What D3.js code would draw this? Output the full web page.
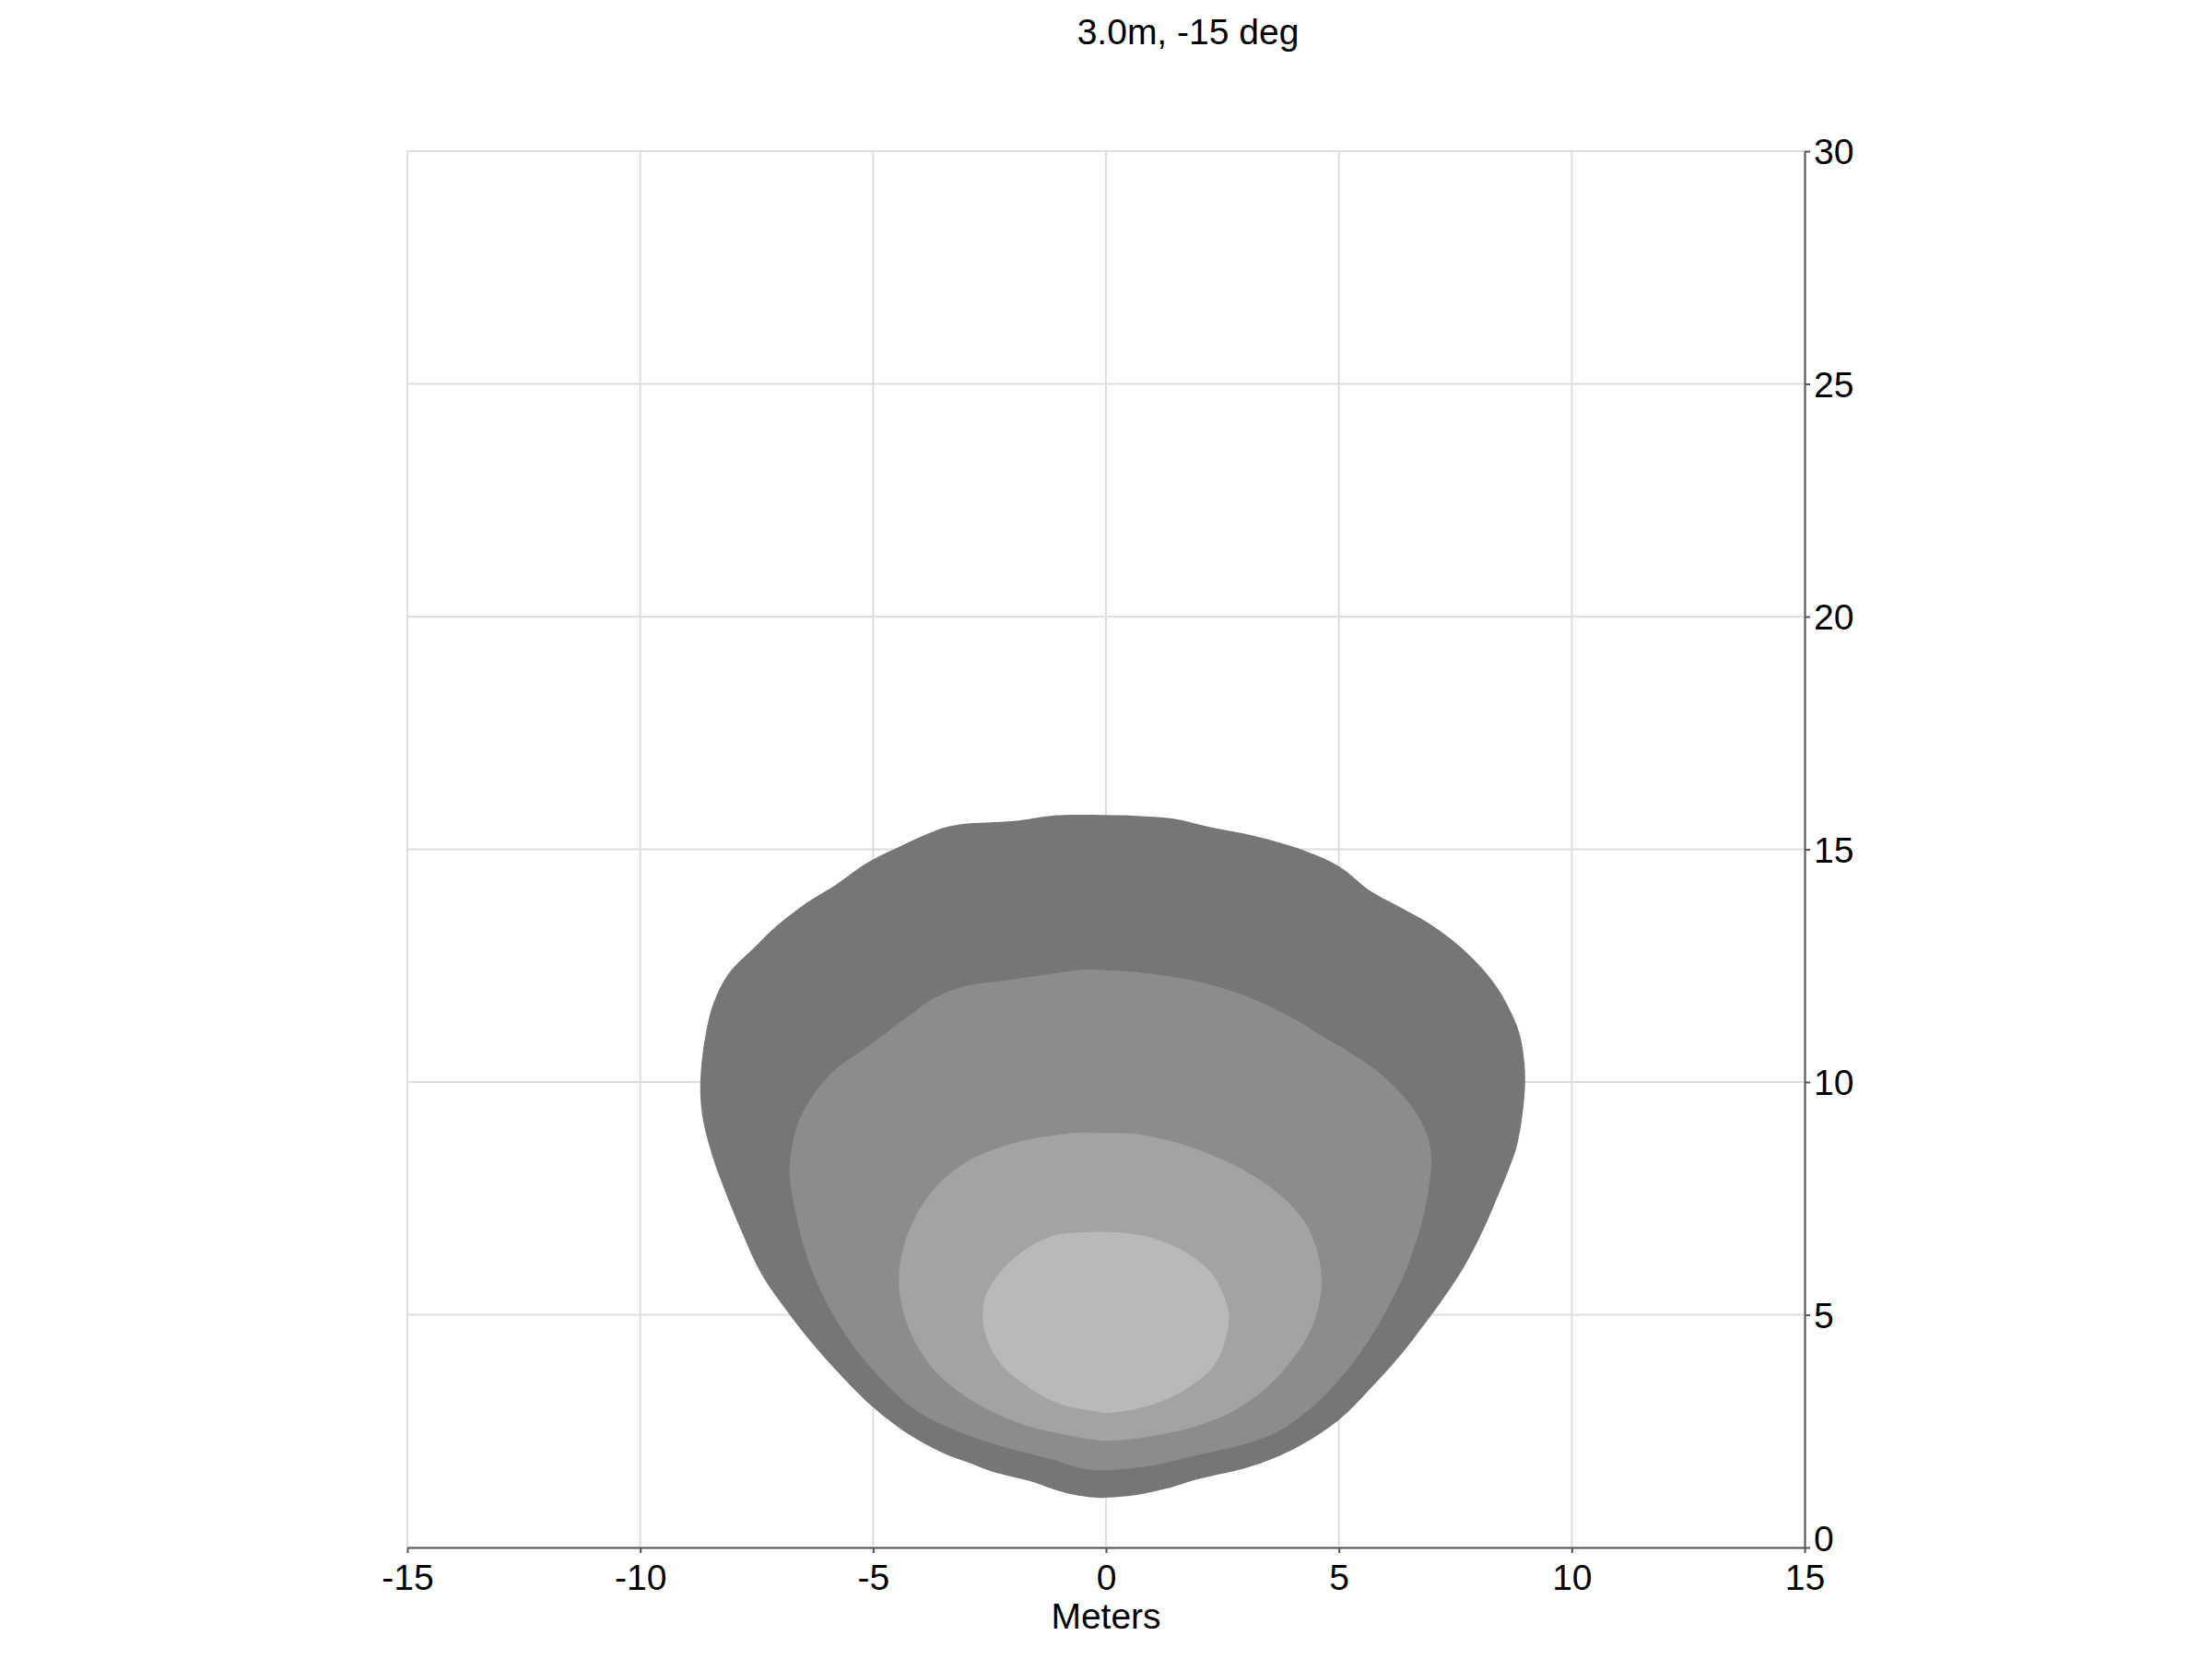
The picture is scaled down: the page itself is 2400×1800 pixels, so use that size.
<!DOCTYPE html>
<html>
<head>
<meta charset="utf-8">
<script src="https://cdn.jsdelivr.net/npm/d3@7"></script>
<style>
  html, body { margin: 0; padding: 0; background: #fff; }
  svg { display: block; }
  text { font-family: "Liberation Sans", Arial, sans-serif; }
</style>
</head>
<body>
<script>
// ---------------- data ----------------
const title = "3.0m, -15 deg";
const xLabel = "Meters";
const xTicks = [-15, -10, -5, 0, 5, 10, 15];
const yTicks = [0, 5, 10, 15, 20, 25, 30];

// Iso-illuminance contours [x (m), y (m)], outermost first
const contourOuter = [
  [0.00, 15.74], [0.66, 15.72], [1.45, 15.66], [2.31, 15.46], [3.17, 15.29], [4.29, 14.96],
  [5.01, 14.63], [5.67, 14.11], [6.27, 13.78], [6.93, 13.41], [7.59, 12.92], [8.18, 12.32],
  [8.58, 11.73], [8.87, 11.07], [8.97, 10.54], [9.00, 10.01], [8.94, 9.29], [8.82, 8.62],
  [8.62, 8.05], [8.38, 7.47], [8.08, 6.78], [7.70, 6.05], [7.23, 5.33], [6.66, 4.56], [6.33, 4.14],
  [5.74, 3.48], [5.01, 2.75], [4.22, 2.22], [3.56, 1.90], [2.97, 1.70], [1.98, 1.47],
  [1.32, 1.27], [0.66, 1.13], [0.00, 1.07], [-0.20, 1.07], [-0.86, 1.17], [-1.65, 1.43],
  [-2.44, 1.63], [-2.97, 1.83], [-3.50, 2.03], [-4.22, 2.42], [-5.01, 3.02], [-5.61, 3.61],
  [-6.27, 4.34], [-6.79, 5.00], [-7.39, 5.86], [-7.85, 6.85], [-8.25, 7.84], [-8.48, 8.50],
  [-8.67, 9.29], [-8.71, 10.01], [-8.61, 10.94], [-8.44, 11.66], [-8.11, 12.32], [-7.52, 12.92],
  [-7.12, 13.31], [-6.40, 13.87], [-5.80, 14.24], [-5.15, 14.70], [-4.49, 15.03], [-3.56, 15.44],
  [-3.10, 15.54], [-1.98, 15.61], [-1.19, 15.72], [-0.86, 15.74]
];
const contourSecond = [
  [0.00, 12.40], [0.66, 12.36], [1.98, 12.16], [2.97, 11.86], [3.96, 11.40], [4.62, 11.00],
  [5.28, 10.61], [5.94, 10.14], [6.40, 9.68], [6.73, 9.22], [6.93, 8.76], [6.99, 8.30],
  [6.96, 7.97], [6.86, 7.31], [6.66, 6.58], [6.40, 5.86], [6.07, 5.19], [5.61, 4.40],
  [5.01, 3.61], [4.35, 2.95], [3.69, 2.49], [2.97, 2.22], [1.98, 1.99], [0.99, 1.76],
  [0.00, 1.66], [-0.53, 1.70], [-1.19, 1.90], [-2.18, 2.16], [-3.17, 2.49], [-4.09, 2.95],
  [-4.88, 3.68], [-5.48, 4.40], [-6.00, 5.26], [-6.40, 6.18], [-6.66, 7.17], [-6.79, 7.97],
  [-6.76, 8.50], [-6.60, 9.15], [-6.27, 9.75], [-5.80, 10.28], [-5.15, 10.74],
  [-4.35, 11.33], [-3.69, 11.80], [-3.03, 12.06], [-2.11, 12.19], [-1.19, 12.32], [-0.40, 12.42]
];
const contourThird = [
  [0.00, 8.90], [0.66, 8.88], [1.65, 8.66], [2.51, 8.33], [3.30, 7.90], [3.96, 7.37],
  [4.35, 6.85], [4.58, 6.18], [4.62, 5.52], [4.42, 4.73], [4.02, 4.07], [3.50, 3.48],
  [2.77, 2.95], [1.98, 2.62], [0.99, 2.39], [0.00, 2.29], [-0.33, 2.32], [-0.86, 2.42],
  [-1.72, 2.62], [-2.51, 2.95], [-3.17, 3.35], [-3.69, 3.81], [-4.09, 4.40], [-4.35, 5.06],
  [-4.45, 5.72], [-4.35, 6.45], [-4.09, 7.11], [-3.63, 7.77], [-3.10, 8.22], [-2.60, 8.48],
  [-2.00, 8.68], [-1.30, 8.83], [-0.53, 8.91]
];
const contourInner = [
  [0.26, 6.77], [0.99, 6.65], [1.65, 6.38], [2.24, 5.92], [2.51, 5.46], [2.64, 5.00],
  [2.56, 4.45], [2.33, 3.92], [1.95, 3.56], [1.40, 3.23], [0.66, 2.98], [0.00, 2.89],
  [-0.20, 2.92], [-0.99, 3.08], [-1.72, 3.48], [-2.31, 4.01], [-2.61, 4.67], [-2.61, 5.33],
  [-2.31, 5.86], [-1.85, 6.32], [-1.19, 6.68], [-0.53, 6.77]
];
const contours = [contourOuter, contourSecond, contourThird, contourInner];
const contourColors = ["#767676", "#8c8c8c", "#a3a3a3", "#b9b9b9"];

// ---------------- layout ----------------
const W = 2400, H = 1800;
const plotLeft = 442, plotRight = 1958, plotTop = 164, plotBottom = 1679;

const svg = d3.select("body").append("svg").attr("width", W).attr("height", H);

const x = d3.scaleLinear().domain([-15, 15]).range([plotLeft, plotRight]);
const y = d3.scaleLinear().domain([0, 30]).range([plotBottom, plotTop]);

// gridlines
const grid = svg.append("g");
grid.selectAll("line.vx").data(xTicks).join("line")
  .attr("x1", d => x(d)).attr("x2", d => x(d)).attr("y1", plotTop).attr("y2", plotBottom)
  .attr("stroke", "#dedede").attr("stroke-width", 2);
grid.selectAll("line.hy").data(yTicks).join("line")
  .attr("y1", d => y(d)).attr("y2", d => y(d)).attr("x1", plotLeft).attr("x2", plotRight)
  .attr("stroke", "#dedede").attr("stroke-width", 2);

// contours
const line = d3.line().x(d => x(d[0])).y(d => y(d[1])).curve(d3.curveCatmullRomClosed.alpha(0.5));
svg.append("g").selectAll("path").data(contours).join("path")
  .attr("d", d => line(d))
  .attr("fill", (d, i) => contourColors[i])
  .attr("stroke", "none");

// axes
const fmt = d => String(d);
const xAxis = svg.append("g").attr("transform", `translate(0,${plotBottom})`)
  .call(d3.axisBottom(x).tickValues(xTicks).tickFormat(fmt).tickSize(6).tickSizeOuter(0).tickPadding(12));
const yAxis = svg.append("g").attr("transform", `translate(${plotRight},0)`)
  .call(d3.axisRight(y).tickValues(yTicks).tickFormat(fmt).tickSize(6).tickSizeOuter(0).tickPadding(4));

[xAxis, yAxis].forEach(a => {
  a.select(".domain").attr("stroke", "#555").attr("stroke-width", 2);
  a.selectAll(".tick line").attr("stroke", "#555").attr("stroke-width", 2);
  a.selectAll(".tick text").attr("fill", "#000")
    .style("font-family", '"Liberation Sans", Arial, sans-serif')
    .style("font-size", "39px");
});
xAxis.selectAll(".tick text").attr("dy", "0.71em");
yAxis.selectAll(".tick text").attr("dy", "0.35em");
// the "0" label of the right axis sits a little above the corner, as in the reference
yAxis.selectAll(".tick text").filter(d => d === 0).attr("dy", "0.1em");

// axis title
svg.append("text")
  .attr("x", x(0)).attr("y", 1767)
  .attr("text-anchor", "middle")
  .style("font-size", "39px").attr("fill", "#000")
  .text(xLabel);

// chart title
svg.append("text")
  .attr("x", 1289).attr("y", 48)
  .attr("text-anchor", "middle")
  .style("font-size", "39px").attr("fill", "#000")
  .text(title);
</script>
</body>
</html>
